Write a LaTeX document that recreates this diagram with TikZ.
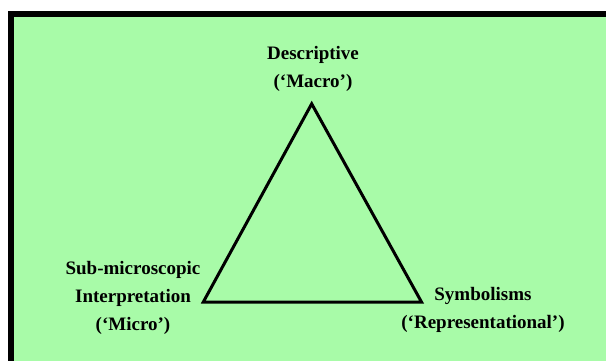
\documentclass[tikz,border=0pt]{standalone}
\usepackage{fontspec}
\setmainfont{Liberation Serif}
\definecolor{panelgreen}{RGB}{168,251,168}
\tikzset{
  lbl/.style={font=\fontsize{19}{28}\selectfont\bfseries, align=center, inner sep=0pt, anchor=base},
  tri/.style={line width=3pt, line join=miter}
}
\begin{document}
\begin{tikzpicture}[x=1pt,y=-1pt]
\useasboundingbox (0,0) rectangle (606,360);
\clip (0,0) rectangle (606,360);
\fill[white] (0,0) rectangle (606,360);
\draw[line width=5.6pt, fill=panelgreen] (11.2,13.8) rectangle (640,400);
\coordinate (apex) at (311.7,103.8);
\coordinate (bl) at (203.3,302);
\coordinate (br) at (421.5,302);
\draw[tri] (apex) -- (bl) -- (br) -- cycle;
\node[lbl] (macro) at (313,87) {Descriptive\\(‘Macro’)};
\node[lbl] (micro) at (133,330.5) {Sub-microscopic\\Interpretation\\(‘Micro’)};
\node[lbl] (symb) at (483,328) {Symbolisms\\(‘Representational’)};
\end{tikzpicture}
\end{document}
